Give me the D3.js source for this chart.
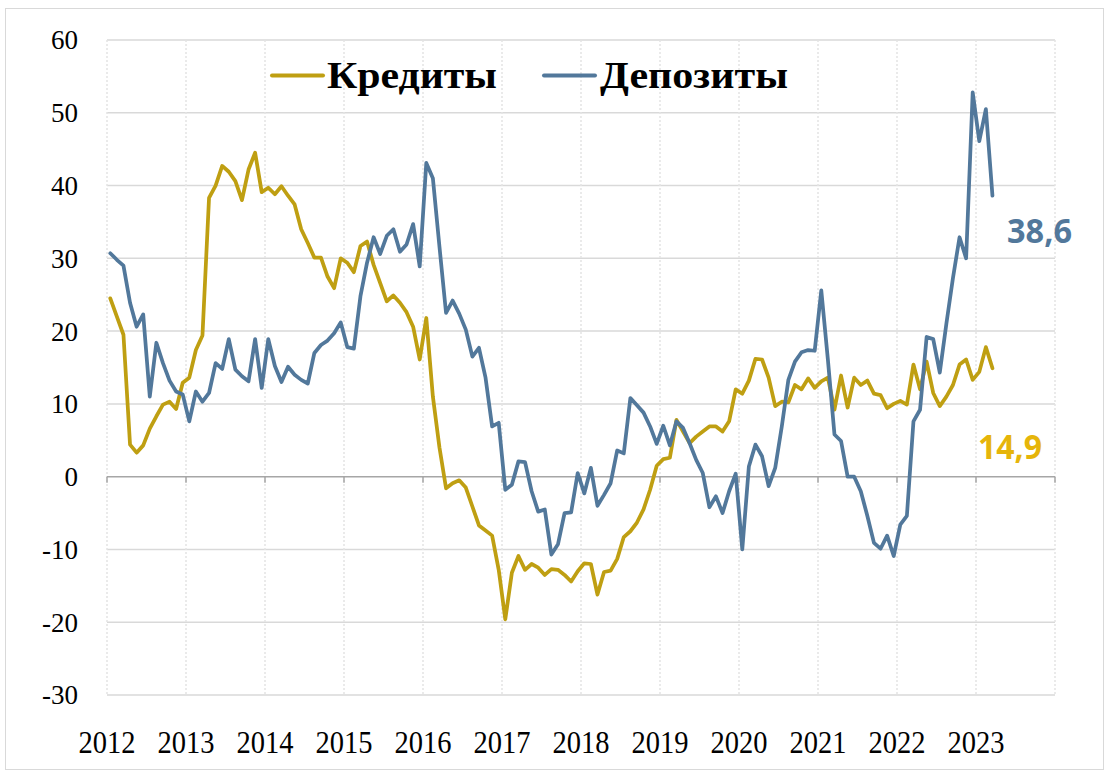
<!DOCTYPE html>
<html>
<head>
<meta charset="utf-8">
<script src="https://cdn.jsdelivr.net/npm/d3@7"></script>
<style>
html,body{margin:0;padding:0;background:#fff;}
svg{display:block;}
</style>
</head>
<body>
<svg id="chart" width="1109" height="774"></svg>
<script>
// ---- data (monthly, Jan 2012 .. Mar 2023) ----
const startYear = 2012;
const years = ["2012","2013","2014","2015","2016","2017","2018","2019","2020","2021","2022","2023"];
const yTicks = [60,50,40,30,20,10,0,-10,-20,-30];
const seriesNames = ["Кредиты","Депозиты"];
const credits = [
24.5,22.0,19.5,4.4,3.3,4.3,6.6,8.3,9.9,10.3,9.3,12.9,
13.6,17.4,19.4,38.3,40.0,42.7,41.9,40.6,38.0,42.2,44.5,39.1,
39.7,38.8,39.9,38.6,37.4,34.0,32.1,30.1,30.1,27.5,25.9,30.0,
29.4,28.1,31.7,32.3,29.1,26.6,24.1,24.9,23.9,22.6,20.6,16.1,
21.8,11.0,4.0,-1.6,-0.9,-0.5,-1.5,-4.1,-6.7,-7.4,-8.1,-12.8,
-19.6,-13.2,-10.9,-12.8,-12.0,-12.5,-13.5,-12.7,-12.8,-13.5,-14.4,-13.0,
-11.9,-12.0,-16.2,-13.1,-12.9,-11.3,-8.3,-7.5,-6.3,-4.5,-1.8,1.5,
2.4,2.6,7.8,6.2,4.6,5.5,6.2,6.9,6.9,6.2,7.6,12.0,
11.4,13.2,16.2,16.1,13.6,9.7,10.3,10.2,12.6,12.0,13.5,12.2,
13.1,13.6,9.2,13.9,9.5,13.6,12.6,13.2,11.4,11.2,9.4,10.0,
10.4,9.9,15.4,12.0,15.8,11.5,9.7,11.0,12.6,15.4,16.1,13.3,
14.4,17.8,14.9
];
const deposits = [
30.7,29.8,29.0,23.9,20.6,22.3,11.0,18.4,15.6,13.2,11.7,11.3,
7.6,11.7,10.3,11.5,15.6,14.8,18.9,14.7,13.8,13.1,18.9,12.2,
18.9,15.2,13.0,15.1,14.0,13.3,12.8,17.0,18.1,18.7,19.7,21.2,
17.8,17.6,24.8,29.4,32.9,30.6,33.1,34.0,30.9,31.9,34.7,28.9,
43.1,41.0,31.6,22.5,24.2,22.4,20.2,16.5,17.7,13.6,6.9,7.4,
-1.8,-1.1,2.1,2.0,-2.0,-4.8,-4.5,-10.7,-9.3,-5.0,-4.9,0.5,
-2.3,1.2,-4.0,-2.5,-0.9,3.6,3.2,10.8,9.8,8.8,6.9,4.5,
7.0,4.3,7.6,6.7,4.6,2.3,0.5,-4.2,-2.7,-5.0,-2.0,0.4,
-10.0,1.4,4.4,2.8,-1.3,1.2,6.9,13.3,15.8,17.1,17.4,17.3,
25.6,16.1,5.8,4.9,0.0,0.0,-2.0,-5.4,-9.1,-9.9,-8.1,-10.9,
-6.6,-5.4,7.6,9.2,19.2,18.9,14.3,21.0,27.3,32.9,30.0,52.8,
46.1,50.5,38.6
];
const lastLabels = ["14,9","38,6"];

// ---- drawing ----
const colCredit = "#BF9F12";
const colDeposit = "#52789B";
const colCreditLabel = "#E6B50A";

const svg = d3.select("#chart");
const margin = {left:107, right:1055, top:40, bottom:695};

// outer chart border
svg.append("rect").attr("x",5.5).attr("y",8.5).attr("width",1098).attr("height",761)
  .attr("fill","#fff").attr("stroke","#d9d9d9").attr("stroke-width",1);

const x = d3.scaleLinear().domain([startYear, startYear + years.length]).range([margin.left, margin.right]);
const y = d3.scaleLinear().domain([-30,60]).range([margin.bottom, margin.top]);

const tOf = i => startYear + (i + 0.5) / 12;

// horizontal gridlines
svg.append("g").selectAll("line").data(yTicks.filter(d=>d!==0)).join("line")
  .attr("x1",margin.left).attr("x2",margin.right)
  .attr("y1",d=>y(d)).attr("y2",d=>y(d))
  .attr("stroke","#d9d9d9").attr("stroke-width",1.5);

// vertical dotted gridlines
const yearPos = d3.range(startYear, startYear + years.length + 1);
svg.append("g").selectAll("line").data(yearPos).join("line")
  .attr("x1",d=>x(d)).attr("x2",d=>x(d))
  .attr("y1",margin.top).attr("y2",margin.bottom)
  .attr("stroke","#e3e3e3").attr("stroke-width",1.5).attr("stroke-dasharray","2,2");

// zero axis line with ticks
svg.append("line").attr("x1",margin.left).attr("x2",margin.right)
  .attr("y1",y(0)).attr("y2",y(0)).attr("stroke","#a6a6a6").attr("stroke-width",1.5);
svg.append("g").selectAll("line").data(yearPos).join("line")
  .attr("x1",d=>x(d)).attr("x2",d=>x(d))
  .attr("y1",y(0)).attr("y2",y(0)+6)
  .attr("stroke","#a6a6a6").attr("stroke-width",1.5);

// y labels
svg.append("g").selectAll("text").data(yTicks).join("text")
  .attr("x",78).attr("y",d=>y(d)).attr("dy","0.35em")
  .attr("text-anchor","end")
  .attr("font-family","'Liberation Serif', serif").attr("font-size",27)
  .attr("fill","#000").text(d=>d);

// x labels
svg.append("g").selectAll("text").data(years).join("text")
  .attr("x",d=>x(+d)).attr("y",753)
  .attr("text-anchor","middle")
  .attr("font-family","'Liberation Serif', serif").attr("font-size",32)
  .attr("textLength",57).attr("lengthAdjust","spacingAndGlyphs")
  .attr("fill","#000").text(d=>d);

// lines
const line = d3.line().x((d,i)=>x(tOf(i))).y(d=>y(d)).curve(d3.curveLinear);
svg.append("path").datum(credits).attr("d",line)
  .attr("fill","none").attr("stroke",colCredit).attr("stroke-width",3.75)
  .attr("stroke-linejoin","round").attr("stroke-linecap","round");
svg.append("path").datum(deposits).attr("d",line)
  .attr("fill","none").attr("stroke",colDeposit).attr("stroke-width",3.75)
  .attr("stroke-linejoin","round").attr("stroke-linecap","round");

// legend
const leg = svg.append("g");
leg.append("line").attr("x1",272).attr("x2",323).attr("y1",75.5).attr("y2",75.5)
  .attr("stroke",colCredit).attr("stroke-width",4).attr("stroke-linecap","round");
leg.append("text").attr("x",327).attr("y",88)
  .attr("font-family","'Liberation Serif', serif").attr("font-weight","bold").attr("font-size",38)
  .attr("textLength",170).attr("lengthAdjust","spacingAndGlyphs").text(seriesNames[0]);
leg.append("line").attr("x1",544).attr("x2",595).attr("y1",75.5).attr("y2",75.5)
  .attr("stroke",colDeposit).attr("stroke-width",4).attr("stroke-linecap","round");
leg.append("text").attr("x",600).attr("y",88)
  .attr("font-family","'Liberation Serif', serif").attr("font-weight","bold").attr("font-size",38)
  .attr("textLength",188).attr("lengthAdjust","spacingAndGlyphs").text(seriesNames[1]);

// end labels
svg.append("text").attr("x",1007).attr("y",243)
  .attr("font-family","'Open Sans', sans-serif").attr("font-weight","bold").attr("font-size",34)
  .attr("textLength",65).attr("lengthAdjust","spacingAndGlyphs")
  .attr("fill",colDeposit).text(lastLabels[1]);
svg.append("text").attr("x",978).attr("y",459)
  .attr("font-family","'Open Sans', sans-serif").attr("font-weight","bold").attr("font-size",34)
  .attr("textLength",64).attr("lengthAdjust","spacingAndGlyphs")
  .attr("fill",colCreditLabel).text(lastLabels[0]);
</script>
</body>
</html>
